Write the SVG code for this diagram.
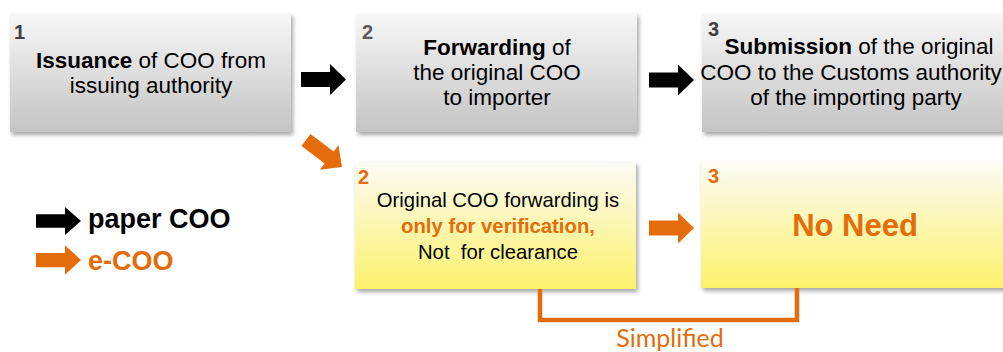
<svg xmlns="http://www.w3.org/2000/svg" width="1003" height="352" viewBox="0 0 1003 352">
<style>
.t{font-family:"Liberation Sans",Arial,sans-serif;fill:#000}
.c{text-anchor:middle;font-size:22.5px}
.c2{text-anchor:middle;font-size:20.3px}
.b{font-weight:bold}
.num{font-family:"Liberation Sans",Arial,sans-serif;font-weight:bold;font-size:20px;fill:#404040}
.onum{font-family:"Liberation Sans",Arial,sans-serif;font-weight:bold;font-size:20px;fill:#E46C0A}
.or{fill:#E46C0A}
.gray{fill:url(#gGray);filter:url(#sh)}
.yel{fill:url(#gYel);filter:url(#sh)}
</style>
<defs>
<linearGradient id="gGray" x1="0" y1="0" x2="0" y2="1">
<stop offset="0" stop-color="#f7f7f7"/>
<stop offset="1" stop-color="#c4c4c4"/>
</linearGradient>
<linearGradient id="gYel" x1="0" y1="0" x2="0" y2="1">
<stop offset="0" stop-color="#fbfbf6"/>
<stop offset="1" stop-color="#fdf26c"/>
</linearGradient>
<filter id="sh" x="-5%" y="-10%" width="115%" height="130%">
<feDropShadow dx="2" dy="3" stdDeviation="2" flood-color="#000" flood-opacity="0.35"/>
</filter>
<path id="arr" d="M0,-7.5 H29 V-15.5 L45,0 L29,15.5 V7.5 H0 Z"/>
</defs>

<g id="node-issuance">
<rect class="gray" x="10" y="13" width="281" height="119"/>
<text class="num" x="14" y="39">1</text>
<text class="t c" x="151" y="68"><tspan class="b">Issuance</tspan> of COO from</text>
<text class="t c" x="151" y="93">issuing authority</text>
</g>

<g id="node-forwarding">
<rect class="gray" x="356" y="13" width="281" height="119"/>
<text class="num" x="362" y="39" style="fill:#595959">2</text>
<text class="t c" x="497" y="55"><tspan class="b">Forwarding</tspan> of</text>
<text class="t c" x="497" y="80">the original COO</text>
<text class="t c" x="497" y="105">to importer</text>
</g>

<g id="node-submission">
<rect class="gray" x="702" y="13" width="320" height="119"/>
<text class="num" x="708" y="36">3</text>
<text class="t c" x="859" y="54"><tspan class="b">Submission</tspan> of the original</text>
<text class="t c" x="851" y="80">COO to the Customs authority</text>
<text class="t c" x="856" y="105">of the importing party</text>
</g>

<g id="node-ecoo-forwarding">
<rect class="yel" x="355" y="162" width="281" height="127"/>
<text class="onum" x="358" y="184">2</text>
<text class="t c2" x="498" y="207">Original COO forwarding is</text>
<text class="t c2 b or" x="498" y="233">only for verification,</text>
<text class="t c2" x="498" y="259" xml:space="preserve">Not  for clearance</text>
</g>

<g id="node-noneed">
<rect class="yel" x="701" y="161" width="320" height="127"/>
<text class="onum" x="708" y="183">3</text>
<text class="t b or" x="855" y="236" text-anchor="middle" font-size="31">No Need</text>
</g>

<g id="connectors">
<use href="#arr" transform="translate(301,79.5)" fill="#000"/>
<use href="#arr" transform="translate(649,80)" fill="#000"/>
<use href="#arr" transform="translate(306,140) rotate(37)" fill="#E46C0A"/>
<use href="#arr" transform="translate(649,228)" fill="#E46C0A"/>
<polyline points="540,289 540,320 797,320 797,288" fill="none" stroke="#E46C0A" stroke-width="4.5"/>
<text x="670" y="347" text-anchor="middle" font-family="Lato,'Open Sans',sans-serif" font-size="25" fill="#E46C0A">Simplified</text>
</g>

<g id="legend">
<use href="#arr" transform="translate(36,221) scale(1,0.9)" fill="#000"/>
<text class="t b" x="88" y="228" font-size="27">paper COO</text>
<use href="#arr" transform="translate(36,260) scale(1,0.95)" fill="#E46C0A"/>
<text class="t b or" x="88" y="270" font-size="27">e-COO</text>
</g>
</svg>
